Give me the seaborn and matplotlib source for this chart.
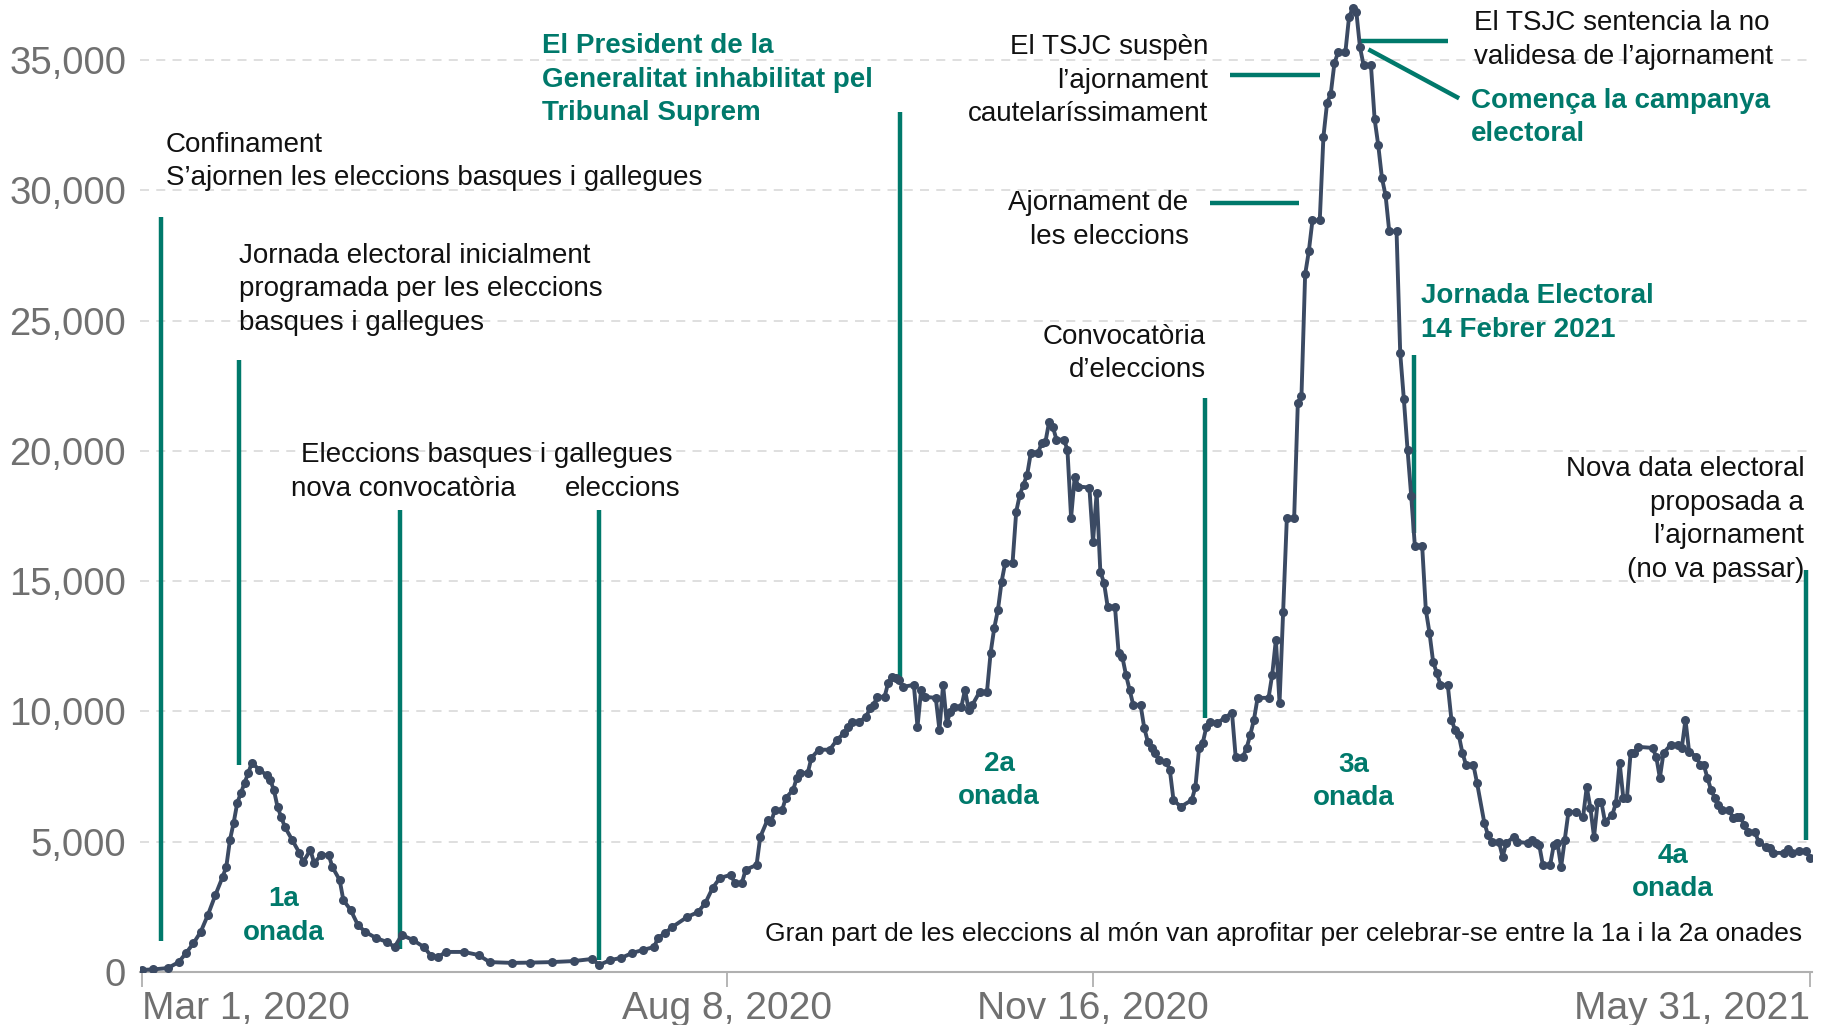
import pandas as pd
import matplotlib.pyplot as plt
import seaborn as sns
import numpy as np

# days since 1 Mar 2020 and daily cases
days = [0, 3, 7, 10, 12, 14, 16, 18, 20, 22, 23, 24, 25, 26, 27, 28, 29, 30, 32, 34,
        35, 36, 37, 38, 39, 41, 43, 44, 46, 47, 49, 51, 52, 54, 55, 57, 59, 61, 64, 67,
        69, 71, 74, 77, 79, 81, 83, 88, 92, 95, 101, 106, 112, 118, 123, 125, 128, 131, 134, 137,
        140, 141, 143, 145, 149, 152, 154, 156, 158, 161, 162, 164, 165, 168, 169, 171, 172, 173, 175, 176,
        178, 179, 180, 182, 183, 185, 188, 190, 192, 193, 194, 196, 198, 199, 200, 201, 203, 204, 205, 206,
        207, 208, 211, 212, 213, 214, 217, 218, 219, 220, 221, 222, 224, 225, 226, 227, 229, 231, 232, 233,
        234, 235, 236, 238, 239, 240, 241, 242, 243, 245, 246, 247, 248, 249, 250, 252, 253, 254, 255, 256,
        259, 260, 261, 262, 263, 264, 266, 267, 268, 269, 270, 271, 273, 274, 275, 276, 277, 278, 280, 281,
        282, 284, 287, 288, 289, 290, 291, 292, 294, 296, 298, 299, 301, 302, 303, 304, 305, 308, 309, 310,
        311, 312, 313, 315, 316, 317, 318, 319, 320, 322, 323, 324, 325, 326, 327, 329, 330, 331, 332, 333,
        334, 336, 337, 338, 339, 340, 341, 343, 344, 345, 346, 347, 348, 350, 351, 352, 353, 354, 355, 357,
        358, 359, 360, 361, 362, 364, 365, 367, 368, 369, 371, 372, 373, 375, 376, 379, 380, 381, 382, 383,
        385, 386, 387, 388, 389, 390, 392, 394, 395, 396, 397, 398, 399, 400, 402, 403, 404, 405, 406, 407,
        408, 409, 413, 414, 415, 416, 418, 420, 421, 422, 423, 425, 426, 427, 428, 429, 430, 431, 432, 434,
        435, 436, 437, 438, 439, 441, 442, 444, 445, 446, 449, 450, 451, 453, 455, 456]
cases = [80, 100, 150, 380, 730, 1100, 1540, 2200, 2950, 3650, 4040, 5070, 5720, 6490, 6870, 7260, 7640, 8030, 7760, 7560,
         7370, 6990, 6340, 5950, 5570, 5070, 4570, 4220, 4680, 4190, 4490, 4490, 4030, 3530, 2760, 2380, 1800, 1540, 1300, 1150,
         960, 1420, 1230, 960, 620, 580, 770, 770, 650, 380, 350, 360, 380, 420, 500, 270, 460, 540, 730, 850,
         960, 1300, 1500, 1730, 2110, 2300, 2650, 3230, 3610, 3730, 3420, 3420, 3920, 4110, 5180, 5840, 5760, 6220, 6220, 6680,
         6990, 7450, 7640, 7640, 8220, 8530, 8530, 8910, 9180, 9410, 9600, 9600, 9790, 10140, 10250, 10560, 10560, 11100, 11330, 11290,
         11210, 10940, 11020, 9410, 10830, 10560, 10520, 9290, 11020, 9560, 9980, 10180, 10180, 10830, 10060, 10250, 10750, 10750, 12250, 13210,
         13900, 14980, 15710, 15710, 17670, 18320, 18700, 19090, 19930, 19930, 20310, 20350, 21120, 20930, 20430, 20430, 20050, 17430, 19010, 18630,
         18590, 16510, 18400, 15360, 14940, 14020, 14020, 12250, 12100, 11410, 10830, 10250, 10250, 9370, 8830, 8600, 8410, 8140, 8060, 7760,
         6600, 6340, 6600, 7100, 8600, 8790, 9410, 9600, 9560, 9750, 9950, 8260, 8260, 8600, 9100, 9680, 10520, 10520, 11410, 12750,
         10330, 13830, 17430, 17430, 21830, 22120, 26770, 27650, 28840, 28840, 32050, 33350, 33690, 34870, 35290, 35290, 36640, 36980, 36850, 35480,
         34790, 34790, 32730, 31720, 30470, 29800, 28420, 28420, 23750, 21970, 20050, 18280, 16360, 16360, 13900, 13020, 11900, 11480, 11020, 11020,
         9680, 9290, 9100, 8410, 7950, 7950, 7260, 5720, 5260, 4990, 4990, 4420, 4950, 5180, 4990, 4950, 5070, 4950, 4880, 4110,
         4110, 4880, 4950, 4030, 5070, 6140, 6140, 5950, 7100, 6300, 5180, 6530, 6530, 5760, 6030, 6490, 8030, 6680, 6680, 8410,
         8410, 8640, 8600, 8260, 7450, 8410, 8720, 8720, 8600, 9680, 8450, 8260, 7950, 7950, 7450, 6990, 6680, 6410, 6220, 6220,
         5910, 5950, 5950, 5650, 5380, 5380, 4990, 4800, 4760, 4570, 4570, 4720, 4570, 4650, 4650, 4380]

tick_dates = ['2020-03-01', '2020-08-08', '2020-11-16', '2021-05-31']
tick_labels = ['Mar 1, 2020', 'Aug 8, 2020', 'Nov 16, 2020', 'May 31, 2021']
y_ticks = [0, 5000, 10000, 15000, 20000, 25000, 30000, 35000]

start = pd.Timestamp('2020-03-01')
df = pd.DataFrame({'date': start + pd.to_timedelta(days, unit='D'), 'cases': cases})

def d(n):
    return start + pd.Timedelta(days=n)

teal = '#00796b'
navy = '#3b4a63'

sns.set_theme(style='white')
plt.rcParams['font.family'] = ['Liberation Sans', 'DejaVu Sans']

fig = plt.figure(figsize=(18.25, 10.25), dpi=100)
ax = fig.add_axes([140 / 1825, 53 / 1025, 1672 / 1825, 972 / 1025])

# annotation guide lines (drawn first so the series sits on top)
vlines = [(5.1, 1207, 28967), (26.4, 7957, 23469), (70.6, 894, 17747), (124.9, 447, 17747),
          (207.2, 11265, 32991), (290.5, 9745, 22038), (347.7, 16853, 23692), (454.9, 5051, 15422)]
for x, y0, y1 in vlines:
    ax.plot([d(x), d(x)], [y0, y1], color=teal, lw=3.2, solid_capstyle='butt', zorder=1)
for x0, x1, y in [(297.5, 322, 34421), (332.8, 357, 35717), (292.1, 316.3, 29504)]:
    ax.plot([d(x0), d(x1)], [y, y], color=teal, lw=3.2, solid_capstyle='butt', zorder=1)
ax.plot([d(335.3), d(360.1)], [35404, 33527], color=teal, lw=3.2, solid_capstyle='butt', zorder=1)

sns.lineplot(data=df, x='date', y='cases', ax=ax, color=navy, linewidth=2.8,
             marker='o', markersize=6.5, markeredgewidth=0, zorder=3)

ax.set_xlim(d(-0.6), d(456.6))
ax.set_ylim(0, 37300)
ax.set_xlabel('')
ax.set_ylabel('')

ax.set_yticks(y_ticks)
ax.set_yticklabels([f'{v:,}' for v in y_ticks])
ax.tick_params(axis='y', length=0, pad=10, labelsize=27.5, labelcolor='#707070')
for v in y_ticks[1:]:
    ax.axhline(v, color='#dcdcdc', lw=1.3, ls=(0, (5, 4)), zorder=0)

ax.set_xticks([pd.Timestamp(t) for t in tick_dates])
ax.set_xticklabels(tick_labels)
ax.tick_params(axis='x', length=11, width=1.3, color='#b0b0b0', direction='out',
               pad=3, labelsize=28, labelcolor='#707070', bottom=True)
xl = ax.get_xticklabels()
xl[0].set_ha('left')
xl[-1].set_ha('right')

for s in ['top', 'right', 'left']:
    ax.spines[s].set_visible(False)
ax.spines['bottom'].set_color('#b0b0b0')
ax.spines['bottom'].set_linewidth(1.5)

fs = 20
black_notes = [
    (6.4, 31110, "Confinament\nS’ajornen les eleccions basques i gallegues", 'left', fs),
    (26.4, 26196, "Jornada electoral inicialment\nprogramada per les eleccions\nbasques i gallegues", 'left', fs),
    (94.1, 19848, "Eleccions basques i gallegues", 'center', fs),
    (71.5, 18552, "nova convocatòria", 'center', fs),
    (131.3, 18552, "eleccions", 'center', fs),
    (291.5, 34197, "El TSJC suspèn\nl’ajornament\ncautelaríssimament", 'right', fs),
    (364.3, 35762, "El TSJC sentencia la no\nvalidesa de l’ajornament", 'left', fs),
    (286.1, 28856, "Ajornament de\nles eleccions", 'right', fs),
    (290.8, 23737, "Convocatòria\nd’eleccions", 'right', fs),
    (454.5, 17367, "Nova data electoral\nproposada a\nl’ajornament\n(no va passar)", 'right', fs),
    (453.9, 1475, "Gran part de les eleccions al món van aprofitar per celebrar-se entre la 1a i la 2a onades", 'right', 19),
]
for x, y, t, ha, size in black_notes:
    ax.text(d(x), y, t, ha=ha, va='center', fontsize=size, color='#111111',
            linespacing=1.38, zorder=4)

teal_notes = [
    (109.3, 34242, "El President de la\nGeneralitat inhabilitat pel\nTribunal Suprem", 'left'),
    (363.3, 32789, "Comença la campanya\nelectoral", 'left'),
    (349.6, 25279, "Jornada Electoral\n14 Febrer 2021", 'left'),
    (38.8, 2146, "1a\nonada", 'center'),
    (234.3, 7354, "2a\nonada", 'center'),
    (331.2, 7309, "3a\nonada", 'center'),
    (418.6, 3822, "4a\nonada", 'center'),
]
for x, y, t, ha in teal_notes:
    ax.text(d(x), y, t, ha=ha, va='center', fontsize=fs, color=teal,
            fontweight='bold', linespacing=1.38, zorder=4)

fig.savefig('out.png', dpi=100)
